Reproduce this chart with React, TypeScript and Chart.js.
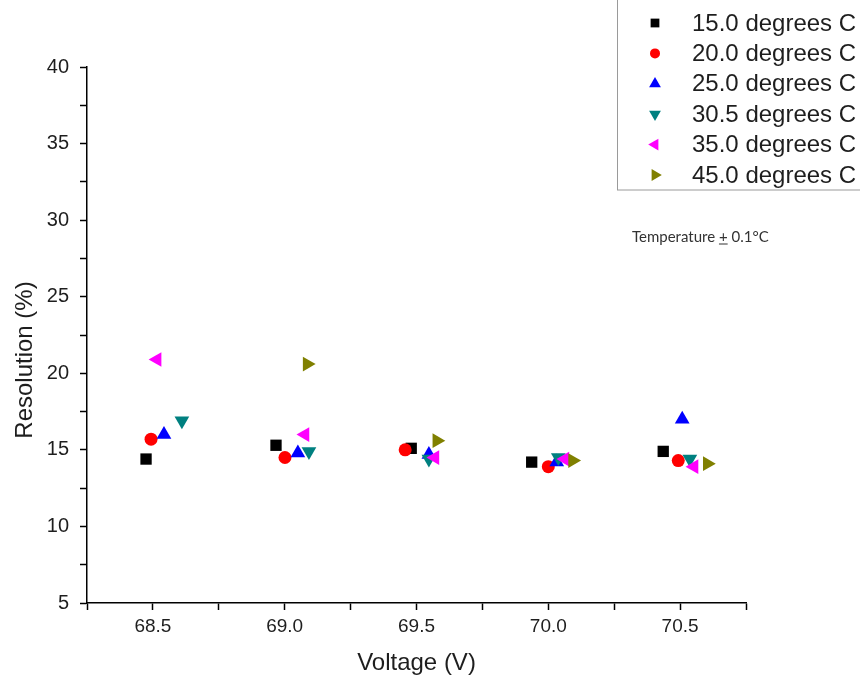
import React, { useEffect, useRef } from 'react';
import { Chart, registerables } from 'chart.js';
import { drawPoint } from 'chart.js/helpers';

Chart.register(...registerables);

// ---- data ----
const seriesLabels = [
  '15.0 degrees C',
  '20.0 degrees C',
  '25.0 degrees C',
  '30.5 degrees C',
  '35.0 degrees C',
  '45.0 degrees C',
];

const v150 = [68.474, 68.967, 69.48, 69.937, 70.436];
const r150 = [14.4, 15.3, 15.1, 14.2, 14.9];
const v200 = [68.493, 69.001, 69.457, 70.0, 70.493];
const r200 = [15.7, 14.5, 15.0, 13.9, 14.3];
const v250 = [68.542, 69.05, 69.547, 70.032, 70.508];
const r250 = [16.0, 14.8, 14.7, 14.2, 17.0];
const v305 = [68.61, 69.092, 69.547, 70.038, 70.537];
const r305 = [16.9, 14.9, 14.4, 14.5, 14.4];
const v350 = [68.516, 69.077, 69.57, 70.063, 70.553];
const r350 = [20.9, 16.0, 14.5, 14.4, 13.9];
const v450 = [69.085, 69.577, 70.092, 70.603];
const r450 = [20.6, 15.6, 14.3, 14.1];

const voltages = [v150, v200, v250, v305, v350, v450];
const resolutions = [r150, r200, r250, r305, r350, r450];

const xMin = 68.25;
const xMax = 70.75;
const xStep = 0.25;
const yMin = 5;
const yMax = 40;
const yStep = 2.5;

const xTitle = 'Voltage (V)';
const yTitle = 'Resolution (%)';
const note = ['Temperature ', '+', ' 0.1°C'];

// ---- styles ----
const colors = ['#000000', '#ff0000', '#0000ff', '#008080', '#ff00ff', '#808000'];
const pointStyles = ['rect', 'circle', 'triangle', 'triangle', 'triangle', 'triangle'];
const rotations = [0, 0, 0, 180, 270, 90];
const radii = [8, 6.5, 8.5, 8.5, 8.5, 8.5];
const legendRadii = [6.2, 5, 6.8, 6.8, 6.8, 6.8];

const FONT = '"Liberation Sans", Arial, sans-serif';
const TEXT = '#1e1e1e';

const overlay = {
  id: 'overlay',
  afterDraw(chart: any) {
    const ctx = chart.ctx as CanvasRenderingContext2D;
    ctx.save();
    // legend box
    ctx.strokeStyle = '#9a9a9a';
    ctx.lineWidth = 1;
    ctx.strokeRect(617.5, -2, 300, 192);
    ctx.font = `24px ${FONT}`;
    ctx.textBaseline = 'middle';
    ctx.textAlign = 'left';
    seriesLabels.forEach((lab, i) => {
      const y = 23 + i * 30.4;
      ctx.fillStyle = colors[i];
      ctx.strokeStyle = colors[i];
      drawPoint(
        ctx,
        { pointStyle: pointStyles[i] as any, rotation: rotations[i], radius: legendRadii[i], borderWidth: 0 } as any,
        655,
        y
      );
      ctx.fillStyle = TEXT;
      ctx.fillText(lab, 692, y + 1);
    });

    // note
    ctx.font = `15px Lato, sans-serif`;
    ctx.fillStyle = '#333333';
    let x = 632;
    const ny = 237;
    note.forEach((part, i) => {
      ctx.fillText(part, x, ny);
      const w = ctx.measureText(part).width;
      if (i === 1) {
        ctx.strokeStyle = '#333333';
        ctx.lineWidth = 1;
        ctx.beginPath();
        ctx.moveTo(x, ny + 7);
        ctx.lineTo(x + w, ny + 7);
        ctx.stroke();
      }
      x += w;
    });

    // y title
    ctx.translate(25, 360);
    ctx.rotate(-Math.PI / 2);
    ctx.font = `24px ${FONT}`;
    ctx.fillStyle = TEXT;
    ctx.textAlign = 'center';
    ctx.fillText(yTitle, 0, 0);
    ctx.restore();
  },
};

export default function App() {
  const ref = useRef<HTMLCanvasElement | null>(null);

  useEffect(() => {
    if (!ref.current) return;
    const datasets = seriesLabels.map((label, i) => ({
      label,
      data: voltages[i].map((v, j) => ({ x: v, y: resolutions[i][j] })),
      pointStyle: pointStyles[i] as any,
      rotation: rotations[i],
      pointRotation: rotations[i],
      pointRadius: radii[i],
      pointHoverRadius: radii[i],
      backgroundColor: colors[i],
      borderColor: colors[i],
      borderWidth: 0,
      showLine: false,
      order: 10 - i,
    }));

    const chart = new Chart(ref.current, {
      type: 'scatter',
      data: { datasets },
      plugins: [overlay],
      options: {
        animation: false,
        responsive: false,
        devicePixelRatio: 1,
        layout: { padding: { top: 67, right: 114, left: 0, bottom: 0 } },
        plugins: {
          legend: { display: false },
          tooltip: { enabled: false },
        },
        scales: {
          x: {
            type: 'linear',
            min: xMin,
            max: xMax,
            afterFit: (s: any) => {
              s.height = 77;
            },
            border: { display: true, color: '#000', width: 1.5 },
            grid: {
              drawOnChartArea: false,
              drawTicks: true,
              tickLength: 7,
              tickWidth: 1.5,
              tickColor: '#000',
            },
            ticks: {
              stepSize: xStep,
              autoSkip: false,
              maxRotation: 0,
              padding: 5,
              color: TEXT,
              font: { family: FONT, size: 19 },
              callback: (v: any) => {
                const n = Number(v);
                return Math.abs(n * 2 - Math.round(n * 2)) < 1e-6 ? n.toFixed(1) : '';
              },
            },
            title: {
              display: true,
              text: xTitle,
              color: TEXT,
              font: { family: FONT, size: 24 },
              padding: { top: 0, bottom: 2 },
            },
          },
          y: {
            type: 'linear',
            min: yMin,
            max: yMax,
            afterFit: (s: any) => {
              s.width = 87;
            },
            border: { display: true, color: '#000', width: 1.5 },
            grid: {
              drawOnChartArea: false,
              drawTicks: true,
              tickLength: 7,
              tickWidth: 1.5,
              tickColor: '#000',
            },
            ticks: {
              stepSize: yStep,
              autoSkip: false,
              padding: 11,
              color: TEXT,
              font: { family: FONT, size: 20 },
              callback: (v: any) => {
                const n = Number(v);
                return Math.abs(n / 5 - Math.round(n / 5)) < 1e-6 ? String(Math.round(n)) : '';
              },
            },
          },
        },
      } as any,
    });
    return () => chart.destroy();
  }, []);

  return (
    <div style={{ position: 'fixed', left: 0, top: 0, width: 860, height: 680, background: '#fff' }}>
      <canvas ref={ref} width={860} height={680} style={{ width: 860, height: 680, display: 'block' }} />
    </div>
  );
}
